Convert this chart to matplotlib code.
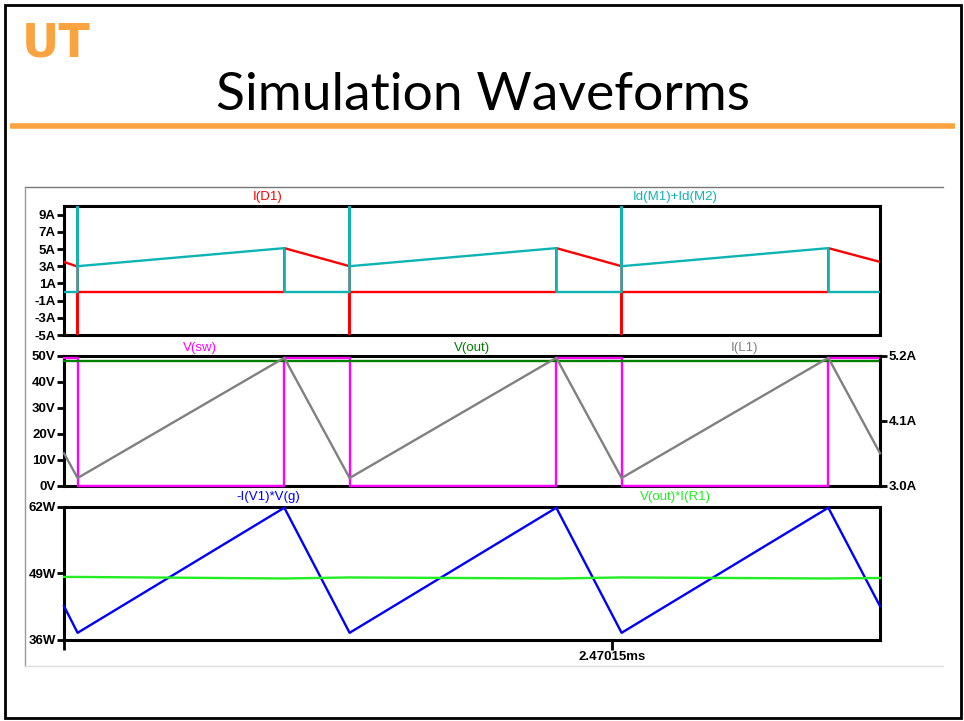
import matplotlib.pyplot as plt
from matplotlib.patches import Rectangle

# time axis in ms, switching period ~10 us
t_start = 2.450
t_end = 2.480

# panel 1: diode current and mosfet current
t_d = [2.4500, 2.4505, 2.4505, 2.4505, 2.4581, 2.4581, 2.4605, 2.4605, 2.4605,
       2.4681, 2.4681, 2.4705, 2.4705, 2.4705, 2.4781, 2.4781, 2.4800]
i_d1 = [3.5, 2.95, -6.0, 0.0, 0.0, 5.1, 3.0, -6.0, 0.0,
        0.0, 5.1, 3.0, -6.0, 0.0, 0.0, 5.1, 3.5]
i_m = [0.0, 0.0, 12.0, 3.0, 5.1, 0.0, 0.0, 12.0, 3.0,
       5.1, 0.0, 0.0, 12.0, 3.0, 5.1, 0.0, 0.0]

# panel 2: switch node, output voltage, inductor current
t_sw = [2.4500, 2.4505, 2.4505, 2.4581, 2.4581, 2.4605, 2.4605,
        2.4681, 2.4681, 2.4705, 2.4705, 2.4781, 2.4781, 2.4800]
v_sw = [49.2, 49.2, 0.0, 0.0, 49.2, 49.2, 0.0,
        0.0, 49.2, 49.2, 0.0, 0.0, 49.2, 49.2]
t_out = [2.4500, 2.4800]
v_out = [48.0, 48.0]
t_l = [2.4500, 2.4505, 2.4581, 2.4605, 2.4681, 2.4705, 2.4781, 2.4800]
i_l1 = [3.55, 3.13, 5.17, 3.13, 5.17, 3.13, 5.17, 3.55]

# panel 3: input and output power
p_in = [42.6, 37.4, 61.8, 37.4, 61.8, 37.4, 61.8, 42.6]
p_out = [48.3, 48.3, 48.0, 48.2, 48.0, 48.2, 48.0, 48.1]

# tick labels
ticks_a = [-5, -3, -1, 1, 3, 5, 7, 9]
labels_a = ['-5A', '-3A', '-1A', '1A', '3A', '5A', '7A', '9A']
ticks_v = [0, 10, 20, 30, 40, 50]
labels_v = ['0V', '10V', '20V', '30V', '40V', '50V']
ticks_il = [3.0, 4.1, 5.2]
labels_il = ['3.0A', '4.1A', '5.2A']
ticks_w = [36, 49, 62]
labels_w = ['36W', '49W', '62W']
ticks_t = [2.450, 2.47015]
labels_t = ['', '2.47015ms']

W, H = 964, 721
fig = plt.figure(figsize=(W / 100, H / 100), dpi=100)

# slide decorations drawn in pixel coordinates
bg = fig.add_axes([0, 0, 1, 1])
bg.set_xlim(0, W)
bg.set_ylim(H, 0)
bg.axis('off')
bg.add_patch(Rectangle((5, 5), 956, 713, fill=False, ec='black', lw=2))
bg.plot([10, 955], [126, 126], color='#f9a441', lw=4, solid_capstyle='butt')
bg.text(22, 44, 'UT', color='#f9a441', fontsize=33, fontweight='heavy',
        family='DejaVu Sans', va='center', ha='left')
bg.text(483, 96, 'Simulation Waveforms', fontsize=38.5, family='Lato',
        ha='center', va='center', color='black')
# screenshot frame
bg.plot([25, 943], [187, 187], color='#777777', lw=1)
bg.plot([25, 25], [187, 666], color='#999999', lw=1)
bg.plot([25, 943], [666, 666], color='#dddddd', lw=1)

left = 64 / W
width = 816 / W


def panel(top, bottom):
    ax = fig.add_axes([left, 1 - bottom / H, width, (bottom - top) / H])
    ax.set_xlim(t_start, t_end)
    for s in ax.spines.values():
        s.set_linewidth(2.2)
    ax.tick_params(direction='out', length=5, width=2, pad=1)
    return ax


tick_font = dict(family='Liberation Sans', weight='bold', size=9.5)
lbl_font = dict(family='Liberation Sans', size=9.5)
lw = 1.7

# panel 1
ax1 = panel(206, 335)
ax1.plot(t_d, i_d1, color='#ff0000', lw=lw, zorder=3)
ax1.plot(t_d, i_m, color='#0fb3b3', lw=lw, zorder=4)
ax1.set_ylim(-5, 10)
ax1.set_yticks(ticks_a)
ax1.set_yticklabels(labels_a, **tick_font)
ax1.set_xticks([])
bg.text(268, 197, 'I(D1)', color='#ff0000', ha='center', va='center', **lbl_font)
bg.text(675, 197, 'Id(M1)+Id(M2)', color='#0fb3b3', ha='center', va='center', **lbl_font)

# panel 2
ax2 = panel(356, 485.7)
ax2.plot(t_sw, v_sw, color='#ff00ff', lw=lw, zorder=3, clip_on=False)
ax2.plot(t_out, v_out, color='#008000', lw=lw, zorder=3, clip_on=False)
ax2.set_ylim(0, 50)
ax2.set_yticks(ticks_v)
ax2.set_yticklabels(labels_v, **tick_font)
ax2.set_xticks([])
ax2b = ax2.twinx()
ax2b.plot(t_l, i_l1, color='#808080', lw=lw, zorder=3, clip_on=False)
ax2b.set_ylim(3.0, 5.2)
ax2b.set_xlim(t_start, t_end)
for k in ['left', 'top', 'bottom']:
    ax2b.spines[k].set_visible(False)
ax2b.spines['right'].set_linewidth(2.2)
ax2b.tick_params(direction='out', length=5, width=2, pad=1)
ax2b.set_yticks(ticks_il)
ax2b.set_yticklabels(labels_il, **tick_font)
bg.text(200, 348, 'V(sw)', color='#ff00ff', ha='center', va='center', **lbl_font)
bg.text(472, 348, 'V(out)', color='#008000', ha='center', va='center', **lbl_font)
bg.text(744, 348, 'I(L1)', color='#808080', ha='center', va='center', **lbl_font)

# panel 3
ax3 = panel(506.7, 640)
ax3.plot(t_l, p_in, color='#0000ff', lw=lw, zorder=3, clip_on=False)
ax3.plot(t_l, p_out, color='#22ee22', lw=lw, zorder=4, clip_on=False)
ax3.set_ylim(36, 62)
ax3.set_yticks(ticks_w)
ax3.set_yticklabels(labels_w, **tick_font)
ax3.set_xticks(ticks_t)
ax3.set_xticklabels(labels_t, **tick_font)
ax3.tick_params(axis='x', length=7)
bg.text(268, 497, '-I(V1)*V(g)', color='#0000ff', ha='center', va='center', **lbl_font)
bg.text(675, 497, 'V(out)*I(R1)', color='#22ee22', ha='center', va='center', **lbl_font)

fig.savefig('out.png', dpi=100)
